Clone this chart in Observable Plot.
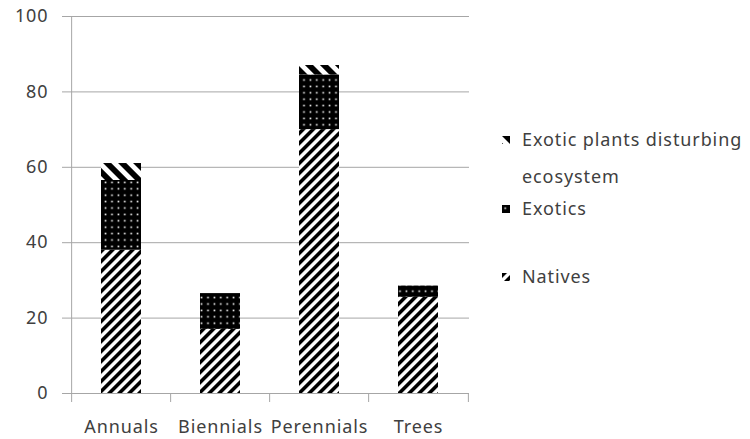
<!DOCTYPE html>
<html>
<head>
<meta charset="utf-8">
<script src="https://cdn.jsdelivr.net/npm/d3@7"></script>
<script src="https://cdn.jsdelivr.net/npm/@observablehq/plot@0.6"></script>
<style>
  body { margin: 0; background: #fff; }
  #wrap { position: relative; width: 750px; height: 439px; font-family: "Noto Sans", sans-serif; color: #404040; }
  .leg { position: absolute; font-size: 18px; letter-spacing: 0.9px; line-height: 20px; white-space: nowrap; }
  .sw { position: absolute; width: 8px; height: 8px; }
  svg text { letter-spacing: 0.9px; }
</style>
</head>
<body>
<div id="wrap"></div>
<script>
// ---- data ----
const categories = ["Annuals", "Biennials", "Perennials", "Trees"];
const natives    = [38, 17, 70, 25.5];
const exotics    = [18.5, 9.5, 14.5, 3];
const disturbing = [4.5, 0, 2.5, 0];
const seriesNames = ["Natives", "Exotics", "Exotic plants disturbing ecosystem"];
const yTicks = [0, 20, 40, 60, 80, 100];

const rows = [];
[natives, exotics, disturbing].forEach((vals, s) => {
  vals.forEach((v, i) => rows.push({category: categories[i], series: seriesNames[s], value: v}));
});

// ---- layout ----
const W = 750, H = 439, mL = 70, mR = 281, mT = 16, mB = 46;
const pIn = 0.6, pOut = 0.3;
const step = (W - mL - mR) / (categories.length - pIn + 2 * pOut);
const half = step / 2;
const grey = "#a6a6a6";
const ink = "#404040";

const patternUrls = ["url(#pNat)", "url(#pExo)", "url(#pDis)"];

const plot = Plot.plot({
  width: W, height: H,
  marginLeft: mL, marginRight: mR, marginTop: mT, marginBottom: mB,
  style: {fontFamily: "Noto Sans, sans-serif", background: "white", overflow: "visible"},
  x: {domain: categories, paddingInner: pIn, paddingOuter: pOut, axis: null, label: null},
  y: {domain: [0, 100], axis: null, label: null},
  color: {type: "ordinal", domain: seriesNames, range: patternUrls, legend: false},
  marks: [
    Plot.gridY(yTicks, {stroke: grey, strokeOpacity: 1}),
    Plot.barY(rows, Plot.stackY({x: "category", y: "value", fill: "series"})),
    Plot.ruleY([0], {stroke: grey}),
    Plot.ruleX([categories[0]], {dx: -half, stroke: grey}),
    Plot.axisY(yTicks, {tickSize: 8, tickPadding: 14, stroke: grey, fill: ink, fontSize: 18, label: null}),
    Plot.axisX(categories, {tickSize: 9, dx: -half, stroke: grey, tickFormat: () => "", label: null}),
    Plot.axisX([categories[categories.length - 1]], {tickSize: 9, dx: half, stroke: grey, tickFormat: () => "", label: null}),
    Plot.axisX(categories, {tickSize: 0, tickPadding: 27, fill: ink, fontSize: 18, label: null})
  ]
});

const defs = `
<defs>
  <pattern id="pNat" patternUnits="userSpaceOnUse" width="7.07" height="7.07" patternTransform="rotate(45)">
    <rect width="7.07" height="7.07" fill="white"/>
    <rect width="3.6" height="7.07" fill="black"/>
  </pattern>
  <pattern id="pDis" patternUnits="userSpaceOnUse" width="10.6" height="10.6" patternTransform="rotate(-45)">
    <rect width="10.6" height="10.6" fill="white"/>
    <rect width="5.8" height="10.6" fill="black"/>
  </pattern>
  <pattern id="pExo" patternUnits="userSpaceOnUse" width="6.4" height="6.4">
    <rect width="6.4" height="6.4" fill="black"/>
    <rect x="2.4" y="2.4" width="1.6" height="1.6" fill="white"/>
  </pattern>
</defs>`;
plot.insertAdjacentHTML("afterbegin", defs);

const wrap = document.getElementById("wrap");
wrap.appendChild(plot);

// ---- legend (HTML, right side) ----
const legendItems = [
  {lines: ["Exotic plants disturbing", "ecosystem"], pat: "pDis", top: 140, gap: 37},
  {lines: ["Exotics"], pat: "pExo", top: 209},
  {lines: ["Natives"], pat: "pNat", top: 277}
];
legendItems.forEach(item => {
  const sw = document.createElementNS("http://www.w3.org/2000/svg", "svg");
  sw.setAttribute("class", "sw");
  sw.setAttribute("width", 8); sw.setAttribute("height", 8);
  sw.style.left = "502px"; sw.style.top = (item.top - 4) + "px";
  sw.innerHTML = `<rect width="8" height="8" fill="url(#${item.pat})"/>`;
  wrap.appendChild(sw);
  item.lines.forEach((t, k) => {
    const d = document.createElement("div");
    d.className = "leg";
    d.textContent = t;
    d.style.left = "522px";
    d.style.top = (item.top - 11 + k * (item.gap || 0)) + "px";
    wrap.appendChild(d);
  });
});
</script>
</body>
</html>
